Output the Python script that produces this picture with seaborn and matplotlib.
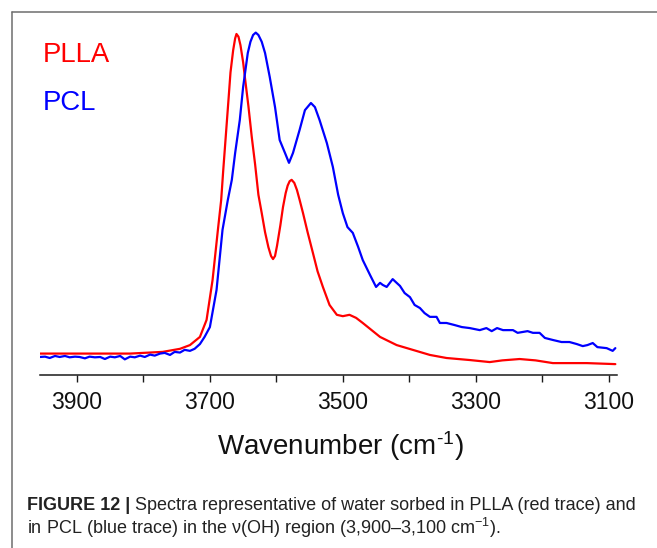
import matplotlib
matplotlib.use("Agg")
import matplotlib.pyplot as plt
from matplotlib.lines import Line2D
import numpy as np
import pandas as pd
import seaborn as sns

# PLLA spectrum (wavenumber in cm-1, absorbance in arbitrary units)
plla_wn = [3956, 3896, 3820, 3771, 3745, 3730, 3715, 3705, 3696, 3688, 3683,
           3680, 3676, 3672, 3669, 3665, 3662, 3660, 3657, 3654, 3650, 3647,
           3642, 3637, 3632, 3627, 3622, 3617, 3612, 3608, 3605, 3602, 3599,
           3594, 3590, 3586, 3583, 3580, 3577, 3573, 3569, 3565, 3560, 3553,
           3545, 3538, 3530, 3520, 3509, 3500, 3490, 3480, 3470, 3444, 3419,
           3369, 3344, 3309, 3279, 3260, 3234, 3210, 3184, 3133, 3090]
plla_abs = [0.063, 0.063, 0.063, 0.068, 0.077, 0.088, 0.112, 0.162, 0.279, 0.426, 0.515,
            0.600, 0.705, 0.810, 0.890, 0.955, 0.990, 1.003, 0.995, 0.970, 0.920, 0.870,
            0.790, 0.700, 0.620, 0.530, 0.476, 0.420, 0.376, 0.350, 0.341, 0.350, 0.380,
            0.440, 0.494, 0.535, 0.557, 0.570, 0.574, 0.565, 0.544, 0.515, 0.477, 0.420,
            0.359, 0.305, 0.259, 0.206, 0.177, 0.173, 0.177, 0.168, 0.153, 0.112, 0.088,
            0.059, 0.050, 0.044, 0.038, 0.043, 0.047, 0.043, 0.035, 0.035, 0.032]

# PCL spectrum
pcl_wn = [3956, 3948, 3941, 3933, 3926, 3918, 3911, 3903, 3896, 3888, 3881, 3873,
          3865, 3858, 3850, 3843, 3835, 3828, 3820, 3813, 3805, 3798, 3790, 3783,
          3775, 3768, 3760, 3753, 3745, 3738, 3730, 3723, 3715, 3708, 3700, 3690,
          3681, 3673, 3667, 3662, 3655, 3650, 3643, 3639, 3635, 3631, 3627, 3622,
          3617, 3610, 3602, 3595, 3587, 3581, 3575, 3565, 3557, 3548, 3542, 3535,
          3524, 3515, 3507, 3500, 3493, 3485, 3477, 3470, 3459, 3450, 3444, 3440,
          3434, 3425, 3419, 3414, 3407, 3399, 3392, 3384, 3377, 3369, 3359, 3354,
          3344, 3332, 3321, 3309, 3294, 3284, 3276, 3268, 3259, 3244, 3237, 3222,
          3214, 3204, 3196, 3184, 3171, 3159, 3148, 3139, 3132, 3124, 3117, 3103,
          3094, 3090]
pcl_abs = [0.053, 0.054, 0.050, 0.056, 0.053, 0.056, 0.052, 0.054, 0.053, 0.049, 0.054, 0.052,
           0.053, 0.047, 0.054, 0.052, 0.056, 0.046, 0.054, 0.052, 0.057, 0.053, 0.060, 0.057,
           0.063, 0.065, 0.059, 0.068, 0.066, 0.074, 0.071, 0.077, 0.091, 0.112, 0.141, 0.250,
           0.427, 0.515, 0.574, 0.653, 0.750, 0.847, 0.947, 0.980, 1.000, 1.007, 1.000, 0.980,
           0.947, 0.877, 0.788, 0.691, 0.653, 0.624, 0.653, 0.721, 0.779, 0.800, 0.788, 0.750,
           0.682, 0.612, 0.530, 0.476, 0.435, 0.418, 0.377, 0.338, 0.294, 0.259, 0.271, 0.265,
           0.259, 0.282, 0.271, 0.262, 0.241, 0.229, 0.206, 0.197, 0.182, 0.171, 0.171, 0.153,
           0.153, 0.147, 0.141, 0.138, 0.132, 0.138, 0.129, 0.138, 0.132, 0.132, 0.124, 0.129,
           0.124, 0.124, 0.109, 0.103, 0.097, 0.097, 0.091, 0.085, 0.088, 0.094, 0.082, 0.079,
           0.071, 0.079]

series_names = ["PLLA", "PCL"]
series_colors = {"PLLA": "#ff0000", "PCL": "#0000ff"}
major_ticks = [3900, 3700, 3500, 3300, 3100]
minor_ticks = [3800, 3600, 3400, 3200]

df = pd.concat([
    pd.DataFrame({"wavenumber": plla_wn, "absorbance": plla_abs, "sample": "PLLA"}),
    pd.DataFrame({"wavenumber": pcl_wn, "absorbance": pcl_abs, "sample": "PCL"}),
], ignore_index=True)

sns.set_style("white")
plt.rcParams["font.family"] = ["Liberation Sans", "DejaVu Sans"]
plt.rcParams["mathtext.fontset"] = "custom"
plt.rcParams["mathtext.rm"] = "Liberation Sans"
plt.rcParams["mathtext.it"] = "Liberation Sans:italic"
plt.rcParams["mathtext.bf"] = "Liberation Sans:bold"

W, H = 657, 548
fig = plt.figure(figsize=(W / 100, H / 100), dpi=100)
fig.patch.set_facecolor("white")

def fx(px):
    return px / W

def fy(py):
    return 1 - py / H

ax = fig.add_axes([fx(40), fy(375), fx(617) - fx(40), fy(12) - fy(375)])
ax.set_facecolor("none")

sns.lineplot(data=df, x="wavenumber", y="absorbance", hue="sample",
             hue_order=series_names, palette=series_colors, estimator=None,
             sort=True, linewidth=1.6, legend=False, ax=ax)

ax.set_xlim(3955.6, 3087.5)
ax.set_ylim(0, 363 / 340)

for side in ("top", "right", "left"):
    ax.spines[side].set_visible(False)
ax.spines["bottom"].set_color("#1a1a1a")
ax.spines["bottom"].set_linewidth(1.1)

ax.set_yticks([])
ax.set_xticks(major_ticks)
ax.set_xticklabels([str(t) for t in major_ticks])
ax.set_xticks(minor_ticks, minor=True)
ax.tick_params(axis="x", which="both", direction="out", length=5, width=1.0,
               color="#1a1a1a", bottom=True)
ax.tick_params(axis="x", which="major", labelsize=16.5, pad=6.5, labelcolor="#111111")
ax.set_xlabel("")
ax.set_ylabel("")

# Series labels in the upper-left corner
fig.text(fx(43), fy(62), "PLLA", color=series_colors["PLLA"], fontsize=19.8,
         va="baseline", ha="left")
fig.text(fx(43), fy(110), "PCL", color=series_colors["PCL"], fontsize=19.8,
         va="baseline", ha="left")

# Axis title
fig.text(fx(340), fy(455), "Wavenumber (cm$^{\\text{-1}}$)", fontsize=20,
         color="#111111", ha="center", va="baseline")

# Panel frame (left and top edges)
fig.add_artist(Line2D([fx(12), fx(12)], [fy(12), 0], color="#6e6e6e", lw=1.1))
fig.add_artist(Line2D([fx(12), 1], [fy(12), fy(12)], color="#6e6e6e", lw=1.1))

# Caption
cap_size = 13
bold = fig.text(fx(27), fy(510), "FIGURE 12 | ", fontsize=cap_size, fontweight="bold",
                family=["Liberation Sans Narrow", "Liberation Sans"],
                color="#222222", ha="left", va="baseline")
fig.canvas.draw()
bb = bold.get_window_extent(renderer=fig.canvas.get_renderer())
fig.text(bb.x1 / W, fy(510),
         "Spectra representative of water sorbed in PLLA (red trace) and",
         fontsize=cap_size, color="#222222", ha="left", va="baseline")
fig.text(fx(27), fy(534),
         "in PCL (blue trace) in the \u03bd(OH) region (3,900\u20133,100 cm$^{\u22121}$).",
         fontsize=cap_size, color="#222222", ha="left", va="baseline")

fig.savefig("out.png", dpi=100, facecolor="white")
